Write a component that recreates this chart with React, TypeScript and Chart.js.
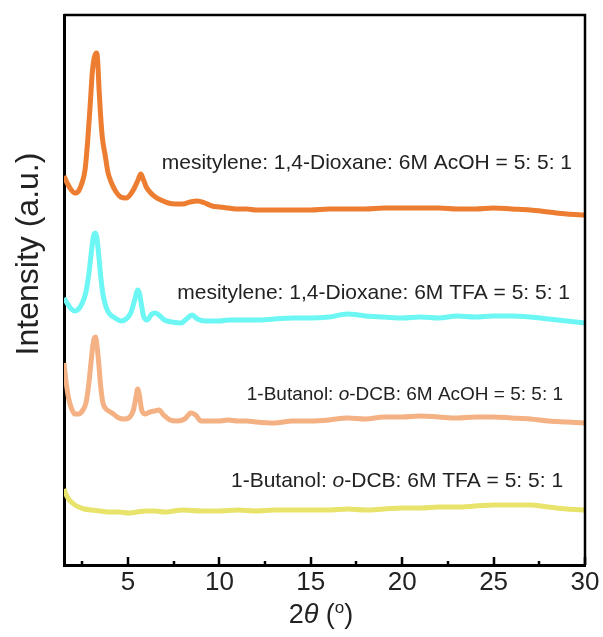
import React, { useEffect, useRef } from "react";
import { Chart, registerables } from "chart.js";

Chart.register(...registerables);

// ---- axis ranges & ticks ----
const X_MIN = 1.5;
const X_MAX = 30;
const Y_MIN = 0;
const Y_MAX = 550;
const majorTicks = [5, 10, 15, 20, 25, 30];
const minorTicks = [2.5, 7.5, 12.5, 17.5, 22.5, 27.5];

// ---- series (2θ, stacked intensity in a.u.) ----
const mesAcohX = [1.5, 1.7, 1.9, 2.1, 2.3, 2.5, 2.65, 2.8, 2.95, 3.05, 3.15, 3.22, 3.28, 3.34, 3.42, 3.5, 3.6, 3.75, 3.9, 4.1, 4.35, 4.6, 4.9, 5.15, 5.35, 5.55, 5.7, 5.85, 6.0, 6.25, 6.5, 6.8, 7.2, 7.6, 8.0, 8.4, 8.8, 9.2, 9.6, 10, 10.5, 11, 11.5, 12, 13, 14, 15, 16, 17, 18, 19, 20, 21, 22, 23, 24, 25, 26, 27, 28, 29, 30];
const mesAcohY = [389, 381, 375, 372, 374, 383, 395, 425, 465, 493, 507, 511, 512, 505, 475, 450, 427, 410, 393, 382, 373, 368, 367, 371, 377, 385, 391, 385, 378, 372, 368, 365, 362, 361, 361, 363, 364, 362, 359, 358, 357, 356, 356, 355, 355, 355, 355, 356, 356, 356, 357, 357, 357, 357, 356, 356, 357, 356, 355, 353, 351, 350];

const mesTfaX = [1.5, 1.7, 1.9, 2.1, 2.3, 2.5, 2.7, 2.85, 2.98, 3.08, 3.15, 3.22, 3.3, 3.4, 3.5, 3.62, 3.8, 4.0, 4.3, 4.6, 4.9, 5.15, 5.32, 5.45, 5.53, 5.62, 5.72, 5.85, 6.05, 6.3, 6.5, 6.75, 7.0, 7.4, 7.9, 8.2, 8.5, 8.8, 9.2, 9.6, 10, 10.5, 11, 11.5, 12, 13, 14, 15, 16, 17, 18, 19, 20, 21, 22, 23, 24, 25, 26, 27, 28, 29, 30];
const mesTfaY = [267, 261, 256, 254, 256, 262, 273, 290, 310, 325, 331, 332, 327, 310, 290, 272, 258, 251, 247, 244, 246, 252, 262, 271, 275, 272, 262, 249, 245, 251, 252, 249, 245, 243, 242, 246, 250, 246, 244, 244, 244, 245, 245, 245, 245, 246, 247, 247, 248, 251, 249, 248, 247, 248, 247, 249, 248, 249, 249, 248, 246, 244, 242];

const butAcohX = [1.5, 1.6, 1.75, 1.9, 2.1, 2.3, 2.5, 2.7, 2.85, 2.98, 3.08, 3.16, 3.22, 3.3, 3.4, 3.5, 3.62, 3.75, 3.95, 4.2, 4.5, 4.8, 5.1, 5.3, 5.45, 5.53, 5.62, 5.75, 5.95, 6.2, 6.45, 6.7, 6.95, 7.3, 7.7, 8.1, 8.45, 8.7, 9.0, 9.4, 10, 10.5, 11, 11.5, 12, 13, 14, 15, 16, 17, 18, 19, 20, 21, 22, 23, 24, 25, 26, 27, 28, 29, 30];
const butAcohY = [202, 185, 167, 157, 151, 151, 154, 162, 180, 203, 220, 227, 228, 220, 202, 180, 163, 157, 154, 151, 147, 146, 148, 155, 169, 176, 170, 155, 151, 153, 154, 155, 150, 145, 144, 146, 152, 150, 144, 144, 144, 145, 144, 144, 143, 142, 144, 144, 145, 147, 146, 148, 148, 149, 148, 147, 148, 148, 147, 146, 144, 143, 142];

const butTfaX = [1.5, 1.6, 1.75, 1.9, 2.1, 2.3, 2.6, 3.0, 3.5, 4.0, 4.5, 5.0, 5.5, 6.0, 6.5, 7.0, 7.5, 8.0, 9, 10, 11, 12, 13, 14, 15, 16, 17, 18, 19, 20, 21, 22, 23, 24, 25, 26, 27, 28, 29, 30];
const butTfaY = [76, 71, 66, 63, 60, 58, 56, 55, 54, 53, 53, 52, 53, 54, 54, 53, 54, 55, 54, 54, 55, 54, 55, 55, 55, 55, 56, 55, 56, 57, 57, 58, 58, 59, 60, 60, 60, 58, 56, 55];

const seriesColors = ["#ED7D31", "#6CF6F4", "#F4B183", "#E8E36A"];

// ---- annotation texts ----
type Seg = { t: string; italic?: boolean };
const label1: Seg[] = [{ t: "mesitylene: 1,4-Dioxane: 6M AcOH = 5: 5: 1" }];
const label2: Seg[] = [{ t: "mesitylene: 1,4-Dioxane: 6M TFA = 5: 5: 1" }];
const label3: Seg[] = [{ t: "1-Butanol: " }, { t: "o", italic: true }, { t: "-DCB: 6M AcOH = 5: 5: 1" }];
const label4: Seg[] = [{ t: "1-Butanol: " }, { t: "o", italic: true }, { t: "-DCB: 6M TFA = 5: 5: 1" }];
const yTitle = "Intensity (a.u.)";

const FONT = '"Liberation Sans", Arial, Helvetica, sans-serif';
const TEXT = "#222";

// label placement: right end (data x) and vertical middle (data y), font size
const labelPlacement = [
  { segs: label1, x: 29.29, y: 402, size: 21 },
  { segs: label2, x: 29.18, y: 272, size: 21 },
  { segs: label3, x: 28.8, y: 170, size: 19 },
  { segs: label4, x: 28.8, y: 84, size: 21 },
];

function drawSegsRight(ctx: CanvasRenderingContext2D, segs: Seg[], size: number, xr: number, ym: number) {
  const fonts = segs.map((s) => `${s.italic ? "italic " : ""}${size}px ${FONT}`);
  const widths = segs.map((s, i) => {
    ctx.font = fonts[i];
    return ctx.measureText(s.t).width;
  });
  const total = widths.reduce((a, b) => a + b, 0);
  let x = xr - total;
  ctx.textBaseline = "middle";
  ctx.textAlign = "left";
  ctx.fillStyle = TEXT;
  segs.forEach((s, i) => {
    ctx.font = fonts[i];
    ctx.fillText(s.t, x, ym);
    x += widths[i];
  });
}

const decorPlugin = {
  id: "decor",
  afterDraw(chart: any) {
    const { ctx, chartArea: ca, scales } = chart;
    const xs = scales.x;
    const ys = scales.y;
    ctx.save();
    // top & right frame
    ctx.strokeStyle = "#000";
    ctx.lineWidth = 2.5;
    ctx.beginPath();
    ctx.moveTo(ca.left, ca.top);
    ctx.lineTo(ca.right, ca.top);
    ctx.lineTo(ca.right, ca.bottom);
    ctx.stroke();
    // inward ticks
    ctx.lineWidth = 2.5;
    for (const v of majorTicks) {
      const px = Math.round(xs.getPixelForValue(v));
      ctx.beginPath();
      ctx.moveTo(px, ca.bottom);
      ctx.lineTo(px, ca.bottom - 8);
      ctx.stroke();
    }
    for (const v of minorTicks) {
      const px = Math.round(xs.getPixelForValue(v));
      ctx.beginPath();
      ctx.moveTo(px, ca.bottom);
      ctx.lineTo(px, ca.bottom - 4);
      ctx.stroke();
    }
    // series labels
    for (const l of labelPlacement) {
      drawSegsRight(ctx, l.segs, l.size, xs.getPixelForValue(l.x), ys.getPixelForValue(l.y));
    }
    // y title
    ctx.save();
    ctx.translate(38, 254);
    ctx.rotate(-Math.PI / 2);
    ctx.font = `32px ${FONT}`;
    ctx.fillStyle = TEXT;
    ctx.textAlign = "center";
    ctx.textBaseline = "alphabetic";
    ctx.fillText(yTitle, 0, 0);
    ctx.restore();
    // x title: 2θ (°)
    const parts = [
      { t: "2", font: `27px ${FONT}`, dy: 0 },
      { t: "θ", font: `italic 27px ${FONT}`, dy: 0 },
      { t: " (", font: `27px ${FONT}`, dy: 0 },
      { t: "o", font: `17px ${FONT}`, dy: -10 },
      { t: ")", font: `27px ${FONT}`, dy: 0 },
    ];
    const ws = parts.map((p) => {
      ctx.font = p.font;
      return ctx.measureText(p.t).width;
    });
    const tw = ws.reduce((a, b) => a + b, 0);
    let x = 321 - tw / 2;
    ctx.textAlign = "left";
    ctx.textBaseline = "alphabetic";
    ctx.fillStyle = TEXT;
    parts.forEach((p, i) => {
      ctx.font = p.font;
      ctx.fillText(p.t, x, 623 + p.dy);
      x += ws[i];
    });
    ctx.restore();
  },
};

function toPoints(xs: number[], ys: number[]) {
  return xs.map((x, i) => ({ x, y: ys[i] }));
}

export default function App() {
  const ref = useRef<HTMLCanvasElement | null>(null);
  useEffect(() => {
    if (!ref.current) return;
    const mk = (xs: number[], ys: number[], color: string, name: string) => ({
      label: name,
      data: toPoints(xs, ys),
      borderColor: color,
      backgroundColor: color,
      borderWidth: 5,
      pointRadius: 0,
      cubicInterpolationMode: "monotone" as const,
      fill: false,
    });
    const chart = new Chart(ref.current, {
      type: "line",
      data: {
        datasets: [
          mk(mesAcohX, mesAcohY, seriesColors[0], "mesitylene AcOH"),
          mk(mesTfaX, mesTfaY, seriesColors[1], "mesitylene TFA"),
          mk(butAcohX, butAcohY, seriesColors[2], "1-Butanol AcOH"),
          mk(butTfaX, butTfaY, seriesColors[3], "1-Butanol TFA"),
        ],
      },
      options: {
        animation: false,
        responsive: true,
        maintainAspectRatio: false,
        layout: { padding: { top: 15, right: 18, left: 0, bottom: 0 } },
        plugins: { legend: { display: false }, tooltip: { enabled: false } },
        scales: {
          x: {
            type: "linear",
            min: X_MIN,
            max: X_MAX,
            afterBuildTicks: (scale: any) => {
              scale.ticks = majorTicks.map((v) => ({ value: v }));
            },
            afterFit: (scale: any) => {
              scale.height = 72;
            },
            ticks: {
              font: { family: FONT, size: 26 },
              color: TEXT,
              padding: 2,
              maxRotation: 0,
              autoSkip: false,
              callback: (v: any) => String(v),
            },
            grid: { display: false, drawTicks: false },
            border: { display: true, color: "#000", width: 3 },
          },
          y: {
            type: "linear",
            min: Y_MIN,
            max: Y_MAX,
            afterFit: (scale: any) => {
              scale.width = 64;
            },
            ticks: { display: false },
            grid: { display: false, drawTicks: false },
            border: { display: true, color: "#000", width: 3 },
          },
        },
      },
      plugins: [decorPlugin],
    });
    return () => chart.destroy();
  }, []);
  return (
    <div style={{ position: "fixed", left: 0, top: 0, width: 603, height: 637, background: "#fff" }}>
      <canvas ref={ref} />
    </div>
  );
}
